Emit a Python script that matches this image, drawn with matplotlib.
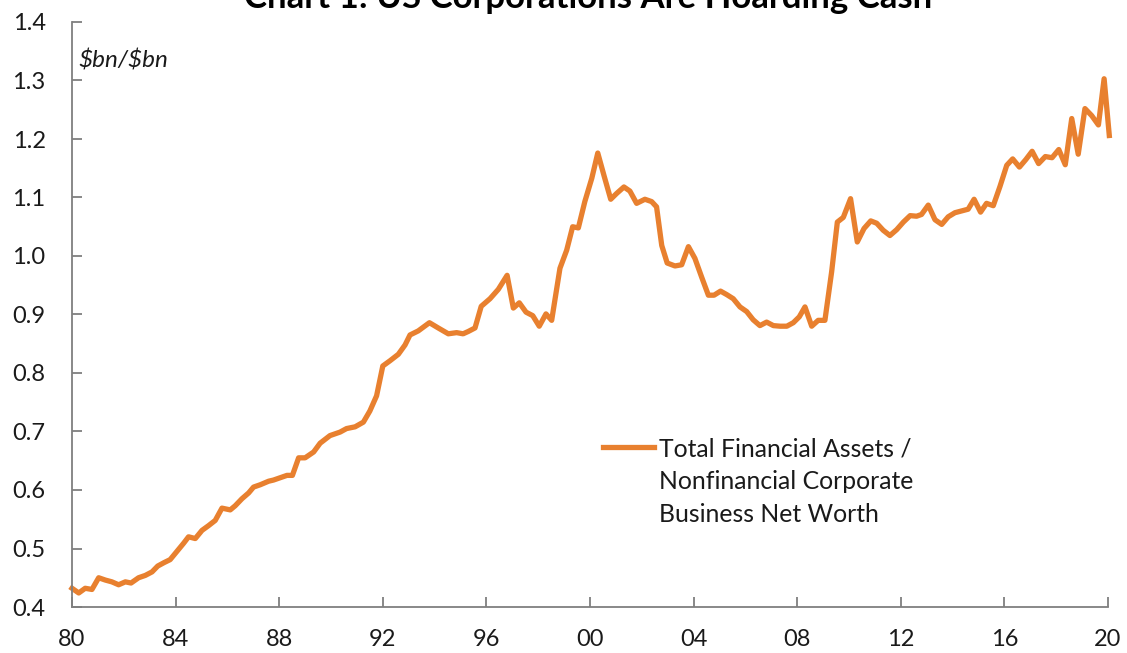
import matplotlib
matplotlib.use("Agg")
import matplotlib.pyplot as plt
import numpy as np

plt.rcParams['font.family'] = ['Lato', 'DejaVu Sans']

title = "Chart 1: US Corporations Are Hoarding Cash"
unit_label = r"\$bn/\$bn"
series_label = "Total Financial Assets /\nNonfinancial Corporate\nBusiness Net Worth"

years = [
    1980.00, 1980.26, 1980.51, 1980.77, 1981.03, 1981.29, 1981.54, 1981.80,
    1982.06, 1982.28, 1982.57, 1982.83, 1983.09, 1983.31, 1983.56, 1983.79,
    1984.05, 1984.31, 1984.50, 1984.76, 1985.02, 1985.27, 1985.53, 1985.79,
    1986.11, 1986.30, 1986.56, 1986.82, 1987.01, 1987.27, 1987.59, 1987.78,
    1988.04, 1988.30, 1988.51, 1988.75, 1989.00, 1989.33, 1989.58, 1989.96,
    1990.35, 1990.60, 1990.93, 1991.25, 1991.50, 1991.76, 1992.00, 1992.28,
    1992.60, 1992.86, 1993.05, 1993.37, 1993.80, 1994.14, 1994.53, 1994.85,
    1995.10, 1995.30, 1995.56, 1995.80, 1996.14, 1996.46, 1996.80, 1997.04,
    1997.27, 1997.53, 1997.79, 1998.04, 1998.30, 1998.52, 1998.84, 1999.10,
    1999.33, 1999.55, 1999.80, 2000.07, 2000.30, 2000.55, 2000.80, 2001.03,
    2001.31, 2001.54, 2001.80, 2002.12, 2002.38, 2002.57, 2002.77, 2002.98,
    2003.28, 2003.54, 2003.80, 2004.05, 2004.31, 2004.57, 2004.79, 2005.04,
    2005.28, 2005.53, 2005.79, 2006.05, 2006.30, 2006.56, 2006.82, 2007.08,
    2007.34, 2007.60, 2007.85, 2008.08, 2008.30, 2008.56, 2008.81, 2009.07,
    2009.33, 2009.55, 2009.78, 2010.06, 2010.32, 2010.58, 2010.84, 2011.07,
    2011.32, 2011.58, 2011.84, 2012.10, 2012.36, 2012.61, 2012.80, 2013.06,
    2013.32, 2013.58, 2013.83, 2014.09, 2014.35, 2014.60, 2014.83, 2015.08,
    2015.31, 2015.57, 2015.83, 2016.09, 2016.32, 2016.58, 2016.83, 2017.07,
    2017.32, 2017.58, 2017.84, 2018.10, 2018.35, 2018.60, 2018.85, 2019.11,
    2019.37, 2019.63, 2019.85, 2020.05,
]

ratio = [
    0.432, 0.424, 0.432, 0.430, 0.450, 0.446, 0.443, 0.438,
    0.443, 0.441, 0.450, 0.454, 0.460, 0.470, 0.476, 0.481,
    0.495, 0.509, 0.520, 0.517, 0.531, 0.539, 0.548, 0.569,
    0.566, 0.573, 0.585, 0.595, 0.605, 0.609, 0.615, 0.617,
    0.621, 0.625, 0.625, 0.655, 0.655, 0.665, 0.680, 0.693,
    0.699, 0.705, 0.708, 0.716, 0.735, 0.761, 0.812, 0.821,
    0.832, 0.848, 0.865, 0.872, 0.886, 0.877, 0.867, 0.869,
    0.867, 0.871, 0.877, 0.914, 0.927, 0.943, 0.967, 0.911,
    0.920, 0.904, 0.898, 0.880, 0.901, 0.890, 0.979, 1.010,
    1.050, 1.048, 1.093, 1.133, 1.176, 1.136, 1.097, 1.107,
    1.118, 1.111, 1.090, 1.097, 1.093, 1.084, 1.018, 0.988,
    0.983, 0.985, 1.016, 0.996, 0.964, 0.933, 0.933, 0.940,
    0.934, 0.927, 0.913, 0.905, 0.891, 0.881, 0.887, 0.881,
    0.880, 0.880, 0.886, 0.896, 0.913, 0.880, 0.890, 0.890,
    0.973, 1.058, 1.066, 1.098, 1.024, 1.047, 1.060, 1.056,
    1.044, 1.035, 1.045, 1.058, 1.069, 1.068, 1.071, 1.087,
    1.062, 1.054, 1.067, 1.074, 1.077, 1.080, 1.097, 1.075,
    1.090, 1.086, 1.119, 1.155, 1.166, 1.152, 1.165, 1.179,
    1.158, 1.170, 1.168, 1.182, 1.156, 1.235, 1.174, 1.252,
    1.240, 1.224, 1.303, 1.206,
]

x_ticks = [1980, 1984, 1988, 1992, 1996, 2000, 2004, 2008, 2012, 2016, 2020]
x_ticklabels = ["80", "84", "88", "92", "96", "00", "04", "08", "12", "16", "20"]
y_ticks = [0.4, 0.5, 0.6, 0.7, 0.8, 0.9, 1.0, 1.1, 1.2, 1.3, 1.4]

W, H = 1127, 653
fig = plt.figure(figsize=(W / 100, H / 100), dpi=100)
ax = fig.add_axes([72 / W, 1 - 607 / H, (1108 - 72) / W, (607 - 22) / H])

line_color = "#E8802F"
ax.plot(years, ratio, color=line_color, lw=3.8, solid_joinstyle="round",
        clip_on=False, label=series_label)

ax.set_xlim(1980, 2020)
ax.set_ylim(0.4, 1.4)
ax.set_xticks(x_ticks)
ax.set_xticklabels(x_ticklabels)
ax.set_yticks(y_ticks)
ax.set_yticklabels([f"{v:.1f}" for v in y_ticks])

for s in ["top", "right"]:
    ax.spines[s].set_visible(False)
for s in ["left", "bottom"]:
    ax.spines[s].set_color("#7f7f7f")
    ax.spines[s].set_linewidth(1.3)

ax.tick_params(axis="both", direction="in", length=7, width=1.3, color="#7f7f7f",
               labelsize=17, labelcolor="#1a1a1a")
ax.tick_params(axis="y", pad=19)
ax.tick_params(axis="x", pad=16)

ax.text(0.006, 0.935, unit_label, transform=ax.transAxes, fontsize=17.5,
        style="italic", color="#1a1a1a", ha="left", va="center")

leg = ax.legend(loc="upper left", bbox_to_anchor=(0.503, 0.306), frameon=False,
                fontsize=17.8, handlelength=2.05, handletextpad=0.2,
                borderaxespad=0, labelspacing=0.3)
for t in leg.get_texts():
    t.set_color("#1a1a1a")
    t.set_linespacing(1.5)
# align the handle with the first text line
for col in leg._legend_handle_box.get_children():
    for item in col.get_children():
        item.align = "top"

fig.text(0.522, 1 - 8 / H, title, ha="center", va="baseline", fontsize=25,
         weight="bold", color="#000000")

fig.savefig("out.png", dpi=100)
